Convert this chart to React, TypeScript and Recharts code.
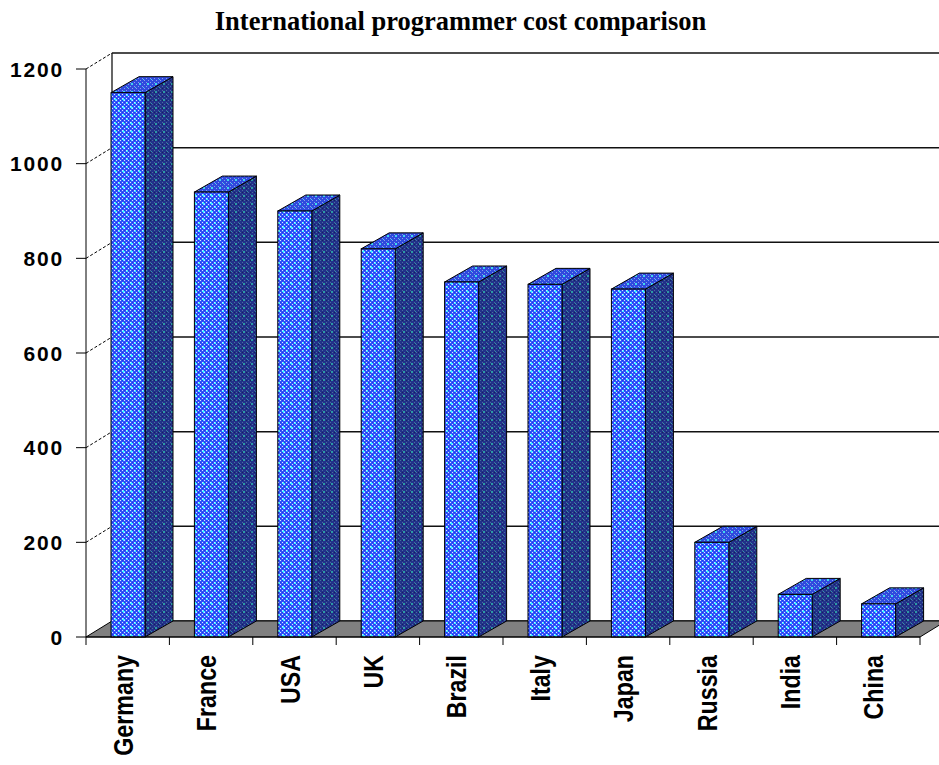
import React from "react";
import { BarChart, Bar, XAxis, YAxis, CartesianGrid } from "recharts";

const countries = ["Germany", "France", "USA", "UK", "Brazil", "Italy", "Japan", "Russia", "India", "China"];
const costs = [1150, 940, 900, 820, 750, 745, 735, 200, 90, 70];
const yTicks = [0, 200, 400, 600, 800, 1000, 1200];

const data = countries.map((name, i) => ({ name, cost: costs[i] }));

// chart frame
const W = 939;
const H = 765;
const MARGIN = { top: 69, right: 19, bottom: 98, left: 26 };
const Y_AXIS_W = 60;
const X_AXIS_H = 30;
const PLOT_LEFT = MARGIN.left + Y_AXIS_W;
const PLOT_W = W - PLOT_LEFT - MARGIN.right;
const PLOT_TOP = MARGIN.top;
const PLOT_BOTTOM = H - MARGIN.bottom - X_AXIS_H;
const BAND = PLOT_W / countries.length;

// 3d offsets
const WALL_DX = 26;
const WALL_DY = 16;
const BAR_DX = 28;
const BAR_DY = 16;

const labelFont = "'Liberation Sans', Arial, sans-serif";

const Patterns = () => (
    <defs>
        <pattern id="pFront" width="4" height="4" patternUnits="userSpaceOnUse">
            <rect width="4" height="4" fill="#3456fc" />
            <rect x="0" y="0" width="1" height="1" fill="#dce2ff" />
            <rect x="2" y="2" width="1" height="1" fill="#dce2ff" />
            <rect x="2" y="0" width="1" height="1" fill="#1c34e8" />
            <rect x="0" y="2" width="1" height="1" fill="#1c34e8" />
        </pattern>
        <pattern id="pFrontSpots" width="8" height="8" patternUnits="userSpaceOnUse">
            <rect x="3" y="2" width="1" height="3" fill="#38ecff" />
            <rect x="2" y="3" width="3" height="1" fill="#38ecff" />
            <rect x="7" y="6" width="1" height="3" fill="#38ecff" />
            <rect x="6" y="7" width="3" height="1" fill="#38ecff" />
        </pattern>
        <pattern id="pSide" width="4" height="4" patternUnits="userSpaceOnUse">
            <rect width="4" height="4" fill="#22318a" />
            <rect x="0" y="0" width="1" height="1" fill="#4a6e9c" />
            <rect x="2" y="2" width="1" height="1" fill="#4a6e9c" />
            <rect x="2" y="0" width="1" height="1" fill="#16205e" />
        </pattern>
        <pattern id="pSideSpots" width="8" height="8" patternUnits="userSpaceOnUse">
            <rect x="3" y="3" width="2" height="2" fill="#2c9aa4" />
            <rect x="7" y="7" width="2" height="2" fill="#2c9aa4" />
        </pattern>
        <pattern id="pTop" width="4" height="4" patternUnits="userSpaceOnUse">
            <rect width="4" height="4" fill="#2f4ade" />
            <rect x="0" y="0" width="1" height="1" fill="#8aa0e8" />
            <rect x="2" y="2" width="1" height="1" fill="#8aa0e8" />
        </pattern>
        <pattern id="pTopSpots" width="8" height="8" patternUnits="userSpaceOnUse">
            <rect x="3" y="3" width="2" height="2" fill="#40d8ec" />
            <rect x="7" y="7" width="2" height="2" fill="#40d8ec" />
        </pattern>
    </defs>
);

const Bar3D = (props: any) => {
    const { x, y, width, height, index } = props;
    const right = x + width;
    const bottom = y + height;
    const side = `${right},${y} ${right + BAR_DX},${y - BAR_DY} ${right + BAR_DX},${bottom - BAR_DY} ${right},${bottom}`;
    const top = `${x},${y} ${x + BAR_DX},${y - BAR_DY} ${right + BAR_DX},${y - BAR_DY} ${right},${y}`;
    return (
        <g>
            {index === 0 && <Patterns />}
            <polygon points={side} fill="url(#pSide)" />
            <polygon points={side} fill="url(#pSideSpots)" stroke="#000" strokeWidth={1} />
            <polygon points={top} fill="url(#pTop)" />
            <polygon points={top} fill="url(#pTopSpots)" stroke="#000" strokeWidth={1} />
            <rect x={x} y={y} width={width} height={height} fill="url(#pFront)" />
            <rect x={x} y={y} width={width} height={height} fill="url(#pFrontSpots)" stroke="#000" strokeWidth={1} />
        </g>
    );
};

// back wall gridlines, side-wall diagonals and the floor
const WallLine = (props: any) => {
    const { x1, y1, x2, index } = props;
    const isFloor = Math.abs(y1 - PLOT_BOTTOM) < 1;
    const isTop = Math.abs(y1 - PLOT_TOP) < 1;
    return (
        <g key={`wall-${index}`}>
            {isTop && (
                <line
                    x1={x1 + WALL_DX}
                    y1={y1 - WALL_DY}
                    x2={x1 + WALL_DX}
                    y2={PLOT_BOTTOM - WALL_DY}
                    stroke="#000"
                    strokeWidth={1.2}
                />
            )}
            <line x1={x1 + WALL_DX} y1={y1 - WALL_DY} x2={x2 + WALL_DX} y2={y1 - WALL_DY} stroke="#111" strokeWidth={1.5} />
            {isFloor ? (
                <polygon
                    points={`${x1},${y1} ${x2},${y1} ${x2 + WALL_DX},${y1 - WALL_DY} ${x1 + WALL_DX},${y1 - WALL_DY}`}
                    fill="#808080"
                    stroke="#000"
                    strokeWidth={1}
                />
            ) : (
                <line x1={x1} y1={y1} x2={x1 + WALL_DX} y2={y1 - WALL_DY} stroke="#000" strokeDasharray="3 2" />
            )}
        </g>
    );
};

const YTick = (props: any) => {
    const { x, y, payload } = props;
    return (
        <text
            x={x - 10}
            y={y + 7.5}
            textAnchor="end"
            fontFamily={labelFont}
            fontWeight="bold"
            fontSize={21}
            letterSpacing={1.8}
            fill="#000"
        >
            {payload.value}
        </text>
    );
};

const XTick = (props: any) => {
    const { x, y, payload, index } = props;
    const left = x - BAND / 2;
    return (
        <g>
            <line x1={left} y1={y} x2={left} y2={y + 8} stroke="#000" />
            {index === countries.length - 1 && (
                <line x1={x + BAND / 2} y1={y} x2={x + BAND / 2} y2={y + 8} stroke="#000" />
            )}
            <text
                transform={`translate(${x + 5},${y + 18}) rotate(-90) scale(0.83,1)`}
                textAnchor="end"
                fontFamily={labelFont}
                fontWeight="bold"
                fontSize={28}
                fill="#000"
            >
                {payload.value}
            </text>
        </g>
    );
};

export default function App() {
    return (
        <div style={{ position: "absolute", left: 0, top: 0, width: W, height: H, background: "#fff" }}>
            <div
                style={{
                    position: "absolute",
                    left: 0,
                    top: 8,
                    width: 921,
                    textAlign: "center",
                    fontFamily: "'Liberation Serif', 'Times New Roman', serif",
                    fontWeight: "bold",
                    fontSize: 26.5,
                    lineHeight: "26px",
                }}
            >
                International programmer cost comparison
            </div>
            <BarChart width={W} height={H} data={data} margin={MARGIN}>
                <CartesianGrid vertical={false} horizontal={WallLine} />
                <XAxis
                    dataKey="name"
                    height={X_AXIS_H}
                    axisLine={{ stroke: "#000" }}
                    tickLine={false}
                    tickSize={0}
                    tickMargin={0}
                    interval={0}
                    tick={<XTick />}
                />
                <YAxis
                    width={Y_AXIS_W}
                    domain={[0, 1200]}
                    ticks={yTicks}
                    axisLine={{ stroke: "#000" }}
                    tickLine={{ stroke: "#000" }}
                    tickSize={10}
                    tick={<YTick />}
                />
                <Bar dataKey="cost" barSize={34} isAnimationActive={false} shape={Bar3D} />
            </BarChart>
        </div>
    );
}
